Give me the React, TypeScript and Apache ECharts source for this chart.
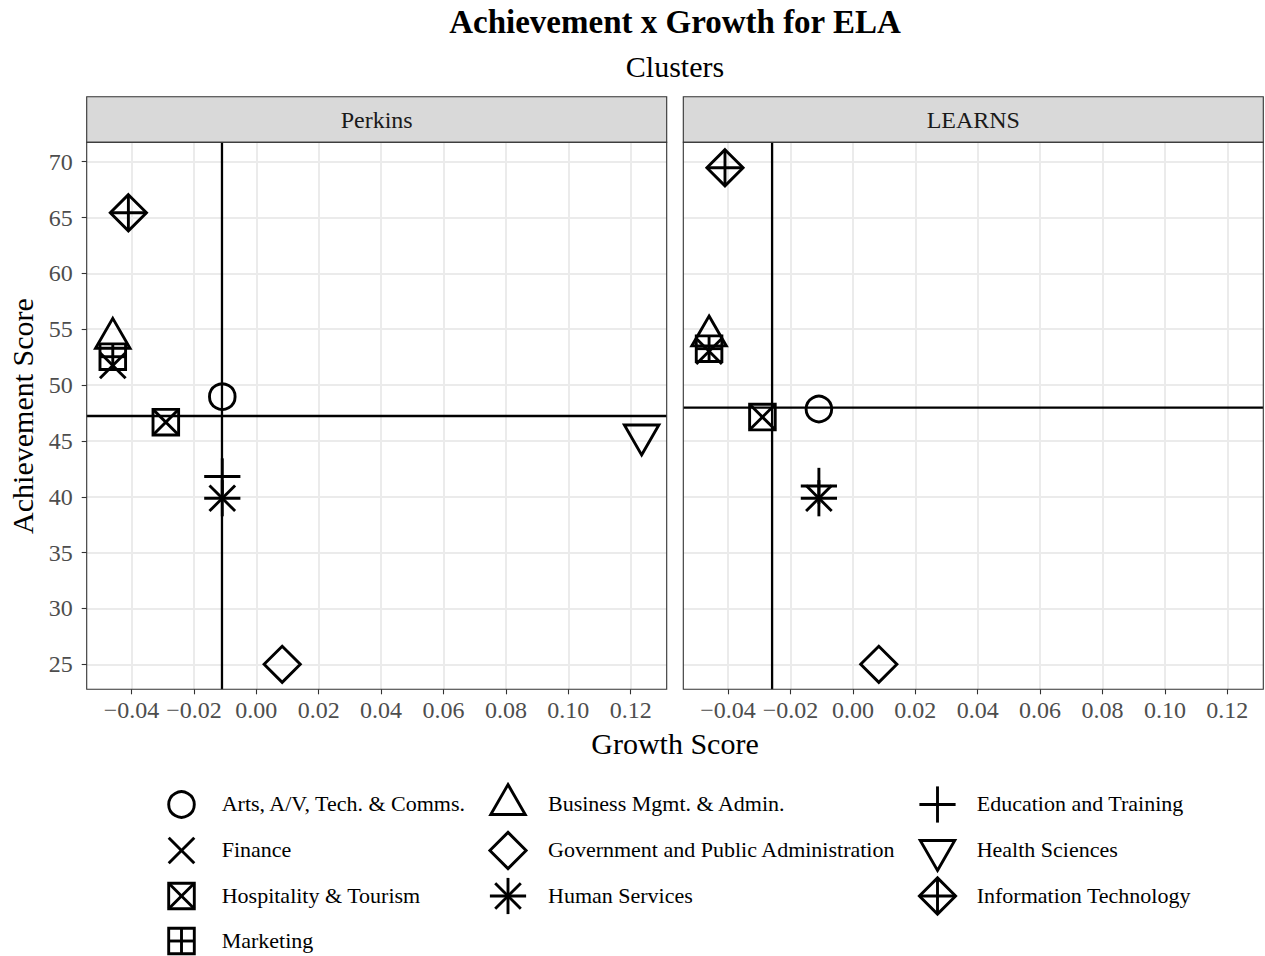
import { useEffect, useRef } from 'react';
import * as echarts from 'echarts';

// ---------------- data ----------------
const categories = [
  'Arts, A/V, Tech. & Comms.',
  'Business Mgmt. & Admin.',
  'Education and Training',
  'Finance',
  'Government and Public Administration',
  'Health Sciences',
  'Hospitality & Tourism',
  'Human Services',
  'Information Technology',
  'Marketing',
];
const shapes = [
  'circle',
  'triangleUp',
  'plus',
  'cross',
  'diamond',
  'triangleDown',
  'squareCross',
  'asterisk',
  'diamondPlus',
  'squarePlus',
];
const facets = ['Perkins', 'LEARNS'];
const perkinsGrowth = [-0.0109, -0.046, -0.0109, -0.046, 0.0083, 0.1235, -0.029, -0.0109, -0.041, -0.046];
const perkinsAchievement = [48.96, 54.19, 41.82, 51.75, 25.0, 45.53, 46.68, 39.87, 65.43, 52.54];
const learnsGrowth = [-0.0109, -0.0461, -0.0109, -0.0461, 0.0083, null, -0.029, -0.0109, -0.041, -0.0461];
const learnsAchievement = [47.86, 54.4, 40.97, 53.03, 25.0, null, 47.14, 39.87, 69.46, 53.26];
const meanGrowth = [-0.011, -0.0259];
const meanAchievement = [47.23, 47.98];
const xTicks = [-0.04, -0.02, 0, 0.02, 0.04, 0.06, 0.08, 0.1, 0.12];
const yTicks = [25, 30, 35, 40, 45, 50, 55, 60, 65, 70];
const xRange = [-0.05436, 0.13154];
const yRange = [22.76, 71.74];

// ---------------- layout ----------------
const FONT = '"Liberation Serif", "Times New Roman", serif';
const PANEL_TOP = 142.3;
const PANEL_H = 547;
const PANEL_W = 580;
const PANEL_LEFT = [86.7, 683.3];
const STRIP_TOP = 96.7;
const MS = 12.8; // marker scale
const LW = 2.9;

function markElements(shape: string, cx: number, cy: number, s: number, lw: number): any[] {
  const st = () => ({ fill: 'none', stroke: '#000', lineWidth: lw, lineJoin: 'miter', lineCap: 'butt' });
  const line = (x1: number, y1: number, x2: number, y2: number) => ({
    type: 'line',
    shape: { x1, y1, x2, y2 },
    style: st(),
  });
  const d = s * Math.SQRT2;
  const plus = (h: number) => [line(cx - h, cy, cx + h, cy), line(cx, cy - h, cx, cy + h)];
  const cross = (h: number) => [line(cx - h, cy - h, cx + h, cy + h), line(cx - h, cy + h, cx + h, cy - h)];
  const diamond = () => ({
    type: 'polygon',
    shape: { points: [[cx, cy - d], [cx + d, cy], [cx, cy + d], [cx - d, cy]] },
    style: st(),
  });
  const square = () => ({ type: 'rect', shape: { x: cx - s, y: cy - s, width: 2 * s, height: 2 * s }, style: st() });
  switch (shape) {
    case 'circle':
      return [{ type: 'circle', shape: { cx, cy, r: s }, style: st() }];
    case 'triangleUp':
      return [{
        type: 'polygon',
        shape: { points: [[cx, cy - 1.555 * s], [cx + 1.347 * s, cy + 0.778 * s], [cx - 1.347 * s, cy + 0.778 * s]] },
        style: st(),
      }];
    case 'triangleDown':
      return [{
        type: 'polygon',
        shape: { points: [[cx, cy + 1.555 * s], [cx + 1.347 * s, cy - 0.778 * s], [cx - 1.347 * s, cy - 0.778 * s]] },
        style: st(),
      }];
    case 'plus':
      return plus(d);
    case 'cross':
      return cross(s);
    case 'asterisk':
      return [...plus(d), ...cross(s)];
    case 'diamond':
      return [diamond()];
    case 'diamondPlus':
      return [diamond(), ...plus(d)];
    case 'squareCross':
      return [square(), ...cross(s)];
    case 'squarePlus':
      return [square(), ...plus(s)];
  }
  return [];
}

const fmtX = (v: number) => {
  const k = v / 0.02;
  if (Math.abs(k - Math.round(k)) > 1e-6) return '';
  const r = Math.round(k) * 0.02;
  return (r < -1e-9 ? '\u2212' : '') + Math.abs(r).toFixed(2);
};
const fmtY = (v: number) => {
  const k = v / 5;
  if (Math.abs(k - Math.round(k)) > 1e-6) return '';
  return String(Math.round(v));
};

const text = (t: string, x: number, y: number, size: number, opts: any = {}) => ({
  type: 'text',
  x,
  y,
  rotation: opts.rotation || 0,
  silent: true,
  z: 100,
  style: {
    text: t,
    fill: opts.color || '#000',
    font: `${opts.weight || 'normal'} ${size}px ${FONT}`,
    fontSize: size,
    fontFamily: FONT,
    fontWeight: opts.weight || 'normal',
    textAlign: opts.align || 'center',
    align: opts.align || 'center',
    textVerticalAlign: 'middle',
    verticalAlign: 'middle',
  },
});

export default function App() {
  const ref = useRef<HTMLDivElement>(null);

  useEffect(() => {
    if (!ref.current) return;
    const chart = echarts.init(ref.current, null, { renderer: 'svg' });

    const facetData = [
      { gx: perkinsGrowth, ay: perkinsAchievement },
      { gx: learnsGrowth, ay: learnsAchievement },
    ];

    const grids = PANEL_LEFT.map((left) => ({ left, top: PANEL_TOP, width: PANEL_W, height: PANEL_H, show: false }));

    const xAxes = facets.map((_, i) => ({
      gridIndex: i,
      type: 'value',
      position: 'bottom',
      min: xRange[0],
      max: xRange[1],
      minInterval: 0.02,
      maxInterval: 0.02,
      axisLine: { show: false, onZero: false },
      axisTick: { show: true, length: 5, lineStyle: { color: '#333333', width: 1.1 }, customValues: xTicks },
      axisLabel: {
        customValues: xTicks,
        formatter: fmtX,
        color: '#4D4D4D',
        fontSize: 24,
        fontFamily: FONT,
        margin: 9,
      },
      splitLine: { show: true, lineStyle: { color: '#EBEBEB', width: 2 } },
    }));

    const yAxes = facets.map((_, i) => ({
      gridIndex: i,
      type: 'value',
      position: 'left',
      min: yRange[0],
      max: yRange[1],
      minInterval: 5,
      maxInterval: 5,
      axisLine: { show: false, onZero: false },
      axisTick: { show: i === 0, length: 5, lineStyle: { color: '#333333', width: 1.1 }, customValues: yTicks },
      axisLabel: {
        show: i === 0,
        customValues: yTicks,
        formatter: fmtY,
        color: '#4D4D4D',
        fontSize: 24,
        fontFamily: FONT,
        margin: 14,
      },
      splitLine: { show: true, lineStyle: { color: '#EBEBEB', width: 2 } },
    }));

    const series: any[] = [];
    facets.forEach((name, i) => {
      const { gx, ay } = facetData[i];
      // reference lines (mean growth / mean achievement)
      series.push({
        name: name + ' reference',
        type: 'custom',
        xAxisIndex: i,
        yAxisIndex: i,
        data: [[meanGrowth[i], meanAchievement[i]]],
        encode: { x: 0, y: 1 },
        silent: true,
        z: 3,
        renderItem: (_params: any, api: any) => {
          const mx = api.value(0);
          const my = api.value(1);
          const v0 = api.coord([mx, yRange[0]]);
          const v1 = api.coord([mx, yRange[1]]);
          const h0 = api.coord([xRange[0], my]);
          const h1 = api.coord([xRange[1], my]);
          const st = () => ({ stroke: '#000', lineWidth: 2.3, fill: 'none' });
          return {
            type: 'group',
            children: [
              { type: 'line', shape: { x1: v0[0], y1: v0[1], x2: v1[0], y2: v1[1] }, style: st() },
              { type: 'line', shape: { x1: h0[0], y1: h0[1], x2: h1[0], y2: h1[1] }, style: st() },
            ],
          };
        },
      });
      const data = gx
        .map((x, k) => [x, ay[k], k])
        .filter((d) => d[0] != null && d[1] != null);
      series.push({
        name,
        type: 'custom',
        xAxisIndex: i,
        yAxisIndex: i,
        data,
        encode: { x: 0, y: 1 },
        z: 5,
        silent: true,
        renderItem: (_params: any, api: any) => {
          const p = api.coord([api.value(0), api.value(1)]);
          return {
            type: 'group',
            children: markElements(shapes[api.value(2)], p[0], p[1], MS, LW),
          };
        },
      });
    });

    const graphic: any[] = [];
    // titles
    graphic.push(text('Achievement x Growth for ELA', 675, 22, 33, { weight: 'bold' }));
    graphic.push(text('Clusters', 675, 66, 30));
    // strips and panel borders
    facets.forEach((name, i) => {
      const left = PANEL_LEFT[i];
      graphic.push({
        type: 'rect',
        silent: true,
        z: 99,
        shape: { x: left, y: STRIP_TOP, width: PANEL_W, height: PANEL_TOP - STRIP_TOP },
        style: { fill: '#D9D9D9', stroke: '#333333', lineWidth: 1.1 },
      });
      graphic.push(text(name, left + PANEL_W / 2, (STRIP_TOP + PANEL_TOP) / 2, 24, { color: '#1A1A1A' }));
      graphic.push({
        type: 'rect',
        silent: true,
        z: 99,
        shape: { x: left, y: PANEL_TOP, width: PANEL_W, height: PANEL_H },
        style: { fill: 'none', stroke: '#333333', lineWidth: 1.1 },
      });
    });
    // axis titles
    graphic.push(text('Growth Score', 675, 743, 30));
    graphic.push(text('Achievement Score', 22, 416, 30, { rotation: Math.PI / 2 }));
    // legend (3 columns, filled row by row)
    const legSymX = [181.5, 508, 937.5];
    const legTextX = [221.7, 548, 976.7];
    const legRowY = [804.5, 850.5, 896, 941];
    categories.forEach((c, k) => {
      const col = k % 3;
      const row = Math.floor(k / 3);
      graphic.push({
        type: 'group',
        silent: true,
        children: markElements(shapes[k], legSymX[col], legRowY[row], MS, LW),
      });
      graphic.push(text(c, legTextX[col], legRowY[row] - 1, 22, { align: 'left' }));
    });

    chart.setOption({
      animation: false,
      backgroundColor: '#fff',
      grid: grids,
      xAxis: xAxes,
      yAxis: yAxes,
      series,
      graphic,
    });

    return () => chart.dispose();
  }, []);

  return <div ref={ref} style={{ position: 'fixed', left: 0, top: 0, width: 1265, height: 956 }} />;
}
